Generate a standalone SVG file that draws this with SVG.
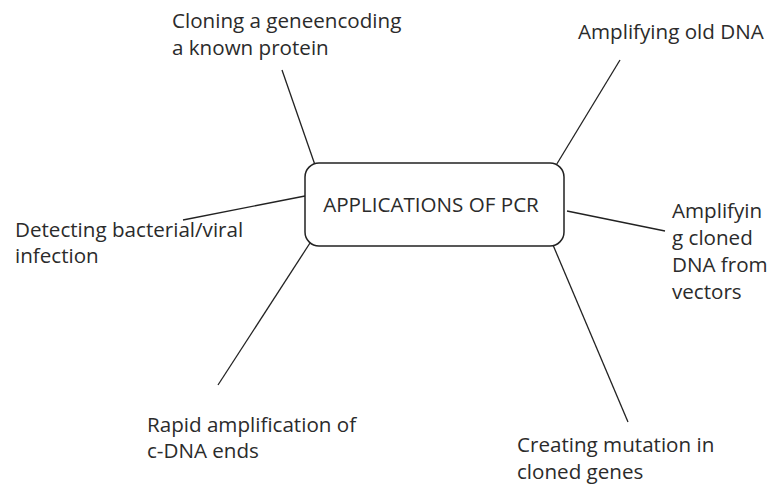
<svg xmlns="http://www.w3.org/2000/svg" width="774" height="492" viewBox="0 0 774 492">
<style>
text{font-family:"Open Sans","Liberation Sans",sans-serif;font-size:20.6px;fill:#2b2b2b}
.c line{stroke:#222;stroke-width:1.3;fill:none}
.box{fill:#fff;stroke:#222;stroke-width:1.5}
</style>
<rect width="774" height="492" fill="#fff"/>
<g id="connectors" class="c">
<line x1="282" y1="70" x2="315" y2="165"/>
<line x1="620" y1="60" x2="555" y2="167"/>
<line x1="183" y1="220" x2="305" y2="196"/>
<line x1="567" y1="211" x2="665" y2="231"/>
<line x1="310" y1="243" x2="218" y2="385"/>
<line x1="553" y1="245" x2="628" y2="422"/>
</g>
<g id="center">
<rect class="box" x="305" y="163" width="259" height="83" rx="14"/>
<text x="431" y="212" text-anchor="middle">APPLICATIONS OF PCR</text>
</g>
<g id="cloning">
<text x="172" y="28">Cloning a geneencoding<tspan x="172" y="55">a known protein</tspan></text>
</g>
<g id="old-dna">
<text x="578" y="39">Amplifying old DNA</text>
</g>
<g id="detecting">
<text x="15" y="237">Detecting bacterial/viral<tspan x="15" y="263">infection</tspan></text>
</g>
<g id="vectors">
<text x="672" y="218">Amplifyin<tspan x="672" y="245">g cloned</tspan><tspan x="672" y="272">DNA from</tspan><tspan x="672" y="299">vectors</tspan></text>
</g>
<g id="rapid">
<text x="147" y="432">Rapid amplification of<tspan x="147" y="458">c-DNA ends</tspan></text>
</g>
<g id="mutation">
<text x="517" y="452">Creating mutation in<tspan x="517" y="479">cloned genes</tspan></text>
</g>
</svg>
